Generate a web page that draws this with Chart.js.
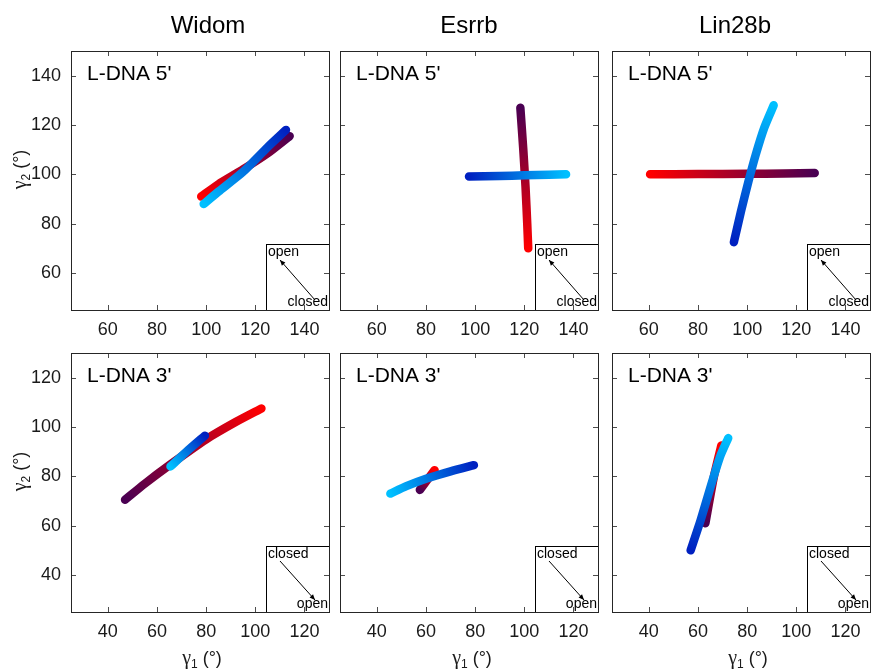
<!DOCTYPE html>
<html>
<head>
<meta charset="utf-8">
<script src="https://cdn.jsdelivr.net/npm/chart.js@4.4.0/dist/chart.umd.min.js"></script>
<style>
  html, body { margin: 0; padding: 0; background: #fff; overflow: hidden; }
  #wrap { position: relative; width: 871px; height: 671px; }
  #wrap canvas { position: absolute; }
</style>
</head>
<body>
<div id="wrap"></div>
<script>
// labels
const columns = ['Widom', 'Esrrb', 'Lin28b'];
const rowLabels = ["L-DNA 5'", "L-DNA 3'"];

// axis ranges + ticks (gamma1 on x, gamma2 on y)
const topRange = [45, 150];
const topTicks = [60, 80, 100, 120, 140];
const bottomRange = [25, 130];
const bottomTicks = [40, 60, 80, 100, 120];

// red series: red end first, dark purple end last  [gamma1, gamma2]
const widom5Red = [[98, 91], [105, 96], [115, 102], [125, 108.5], [134, 115.5]];
const esrrb5Red = [[121.6, 70], [121.2, 80], [120.5, 95], [119.6, 110], [118.4, 127]];
const lin5Red = [[60.5, 100], [80, 100.1], [100, 100.2], [115, 100.3], [127.5, 100.5]];
const widom3Red = [[102.5, 107.5], [92, 102], [80, 95], [65, 84.5], [55, 77], [47, 70.5]];
const esrrb3Red = [[63.5, 82.5], [60.5, 78.5], [57.5, 74.5]];
const lin3Red = [[69.5, 92.5], [66.5, 80], [63, 61]];

// blue series: dark blue end first, light blue end last
const widom5Blue = [[132.5, 118], [125, 111], [115, 101], [105, 93], [99, 88]];
const esrrb5Blue = [[97.5, 99.1], [110, 99.3], [120, 99.6], [130, 99.8], [137, 100]];
const lin5Blue = [[94.6, 72.5], [97.5, 85], [100.5, 97], [103.5, 108], [107, 119], [110.8, 128]];
const widom3Blue = [[79.5, 96.5], [72, 90], [65.5, 84]];
const esrrb3Blue = [[79.5, 84.5], [70, 82], [60, 79], [52, 76], [45.5, 73]];
const lin3Blue = [[57, 50], [61, 62], [65.5, 77], [69, 88], [72.3, 95.5]];

const redEnds = ['#ff0000', '#4a0052'];
const blueEnds = ['#0020c0', '#00c0ff'];

const FONT = '"Liberation Sans", Arial, sans-serif';

// plot boxes
const colLeft = [71, 340, 612];
const rowTop = [51, 353];
const plotW = 258, plotH = 259;
const padL = 70, padB = 59;
const titleShift = [8, 0, -6];
const xLabelShift = [2, 3, 7];

const panels = [
    {row: 0, col: 0, red: widom5Red, blue: widom5Blue},
    {row: 0, col: 1, red: esrrb5Red, blue: esrrb5Blue},
    {row: 0, col: 2, red: lin5Red, blue: lin5Blue},
    {row: 1, col: 0, red: widom3Red, blue: widom3Blue},
    {row: 1, col: 1, red: esrrb3Red, blue: esrrb3Blue},
    {row: 1, col: 2, red: lin3Red, blue: lin3Blue}
];

function toXY(list) {
    return list.map(p => ({x: p[0], y: p[1]}));
}

function lineGradient(ctx, ends) {
    const chart = ctx.chart;
    if (!chart.chartArea) return ends[0];
    const d = chart.data.datasets[ctx.datasetIndex].data;
    const xs = chart.scales.x, ys = chart.scales.y;
    const a = d[0], b = d[d.length - 1];
    const g = chart.ctx.createLinearGradient(
        xs.getPixelForValue(a.x), ys.getPixelForValue(a.y),
        xs.getPixelForValue(b.x), ys.getPixelForValue(b.y));
    g.addColorStop(0, ends[0]);
    g.addColorStop(1, ends[1]);
    return g;
}

function arrow(ctx, x1, y1, x2, y2) {
    ctx.beginPath();
    ctx.moveTo(x1, y1);
    ctx.lineTo(x2, y2);
    ctx.stroke();
    const ang = Math.atan2(y2 - y1, x2 - x1);
    ctx.beginPath();
    ctx.moveTo(x2, y2);
    ctx.lineTo(x2 - 6 * Math.cos(ang - 0.4), y2 - 6 * Math.sin(ang - 0.4));
    ctx.lineTo(x2 - 6 * Math.cos(ang + 0.4), y2 - 6 * Math.sin(ang + 0.4));
    ctx.closePath();
    ctx.fill();
}

// gamma label: serif gamma + subscript + " (°)"
function gammaLabel(ctx, sub, x, y, rotate) {
    ctx.save();
    ctx.translate(x, y);
    if (rotate) ctx.rotate(-Math.PI / 2);
    const pieces = [
        ['γ', '20px "Liberation Serif", serif', 0],
        [sub, '12px ' + FONT, 4],
        [' (°)', '18px ' + FONT, 0]
    ];
    let total = 0;
    pieces.forEach(p => { ctx.font = p[1]; total += ctx.measureText(p[0]).width; });
    let cx = -total / 2;
    ctx.textAlign = 'left';
    ctx.textBaseline = 'alphabetic';
    ctx.fillStyle = '#1a1a1a';
    pieces.forEach(p => {
        ctx.font = p[1];
        ctx.fillText(p[0], cx, p[2]);
        cx += ctx.measureText(p[0]).width;
    });
    ctx.restore();
}

function makeDecor(panel, ticks) {
    return {
        id: 'decor' + panel.row + panel.col,
        afterDatasetsDraw(chart) {
            const ctx = chart.ctx;
            const a = chart.chartArea;
            const L = Math.round(a.left), R = Math.round(a.right);
            const T = Math.round(a.top), B = Math.round(a.bottom);
            ctx.save();

            // inset with open/closed arrow
            const x0 = R - 63, y0 = B - 66;
            ctx.fillStyle = '#fff';
            ctx.fillRect(x0, y0, R - x0, B - y0);
            ctx.strokeStyle = '#000';
            ctx.lineWidth = 1;
            ctx.strokeRect(x0 + 0.5, y0 + 0.5, R - x0, B - y0);
            ctx.fillStyle = '#000';
            ctx.font = '14px ' + FONT;
            ctx.textBaseline = 'alphabetic';
            const first = panel.row === 0 ? 'open' : 'closed';
            const second = panel.row === 0 ? 'closed' : 'open';
            ctx.textAlign = 'left';
            ctx.fillText(first, x0 + 2, y0 + 12);
            ctx.textAlign = 'right';
            ctx.fillText(second, R - 1, B - 4);
            if (panel.row === 0) {
                arrow(ctx, x0 + 49, y0 + 56, x0 + 14, y0 + 16);
            } else {
                arrow(ctx, x0 + 14, y0 + 15, x0 + 49, y0 + 54);
            }

            // inward ticks on all four sides
            ctx.strokeStyle = '#4d4d4d';
            ticks.forEach(v => {
                const px = Math.round(chart.scales.x.getPixelForValue(v)) + 0.5;
                const py = Math.round(chart.scales.y.getPixelForValue(v)) + 0.5;
                ctx.beginPath();
                ctx.moveTo(px, B); ctx.lineTo(px, B - 5);
                ctx.moveTo(px, T); ctx.lineTo(px, T + 5);
                ctx.moveTo(L, py); ctx.lineTo(L + 5, py);
                ctx.moveTo(R, py); ctx.lineTo(R - 5, py);
                ctx.stroke();
            });

            // frame
            ctx.strokeStyle = '#262626';
            ctx.strokeRect(L + 0.5, T + 0.5, R - L, B - T);

            // texts
            ctx.fillStyle = '#000';
            ctx.textAlign = 'left';
            ctx.font = '21px ' + FONT;
            ctx.fillText(rowLabels[panel.row], L + 16, T + 29);
            if (panel.row === 0) {
                ctx.textAlign = 'center';
                ctx.font = '24px ' + FONT;
                ctx.fillText(columns[panel.col], (L + R) / 2 + titleShift[panel.col], T - 18);
            }
            if (panel.row === 1) {
                gammaLabel(ctx, '1', (L + R) / 2 + xLabelShift[panel.col], B + 52, false);
            }
            if (panel.col === 0) {
                gammaLabel(ctx, '2', 25, (T + B) / 2 - 11, true);
            }
            ctx.restore();
        }
    };
}

const wrap = document.getElementById('wrap');

panels.forEach(panel => {
    const range = panel.row === 0 ? topRange : bottomRange;
    const ticks = panel.row === 0 ? topTicks : bottomTicks;
    const canvas = document.createElement('canvas');
    canvas.width = padL + plotW + 1;
    canvas.height = 51 + plotH + padB;
    canvas.style.left = (colLeft[panel.col] - padL) + 'px';
    canvas.style.top = (rowTop[panel.row] - 51) + 'px';
    wrap.appendChild(canvas);

    const tickOpts = {
        font: {family: FONT, size: 18},
        color: '#1a1a1a',
        maxRotation: 0,
        autoSkip: false
    };

    new Chart(canvas, {
        type: 'scatter',
        data: {
            datasets: [
                {
                    data: toXY(panel.blue),
                    showLine: true,
                    borderColor: ctx => lineGradient(ctx, blueEnds),
                    borderWidth: 8.5,
                    borderCapStyle: 'round',
                    borderJoinStyle: 'round',
                    tension: 0.2,
                    pointRadius: 0
                },
                {
                    data: toXY(panel.red),
                    showLine: true,
                    borderColor: ctx => lineGradient(ctx, redEnds),
                    borderWidth: 8.5,
                    borderCapStyle: 'round',
                    borderJoinStyle: 'round',
                    tension: 0.2,
                    pointRadius: 0
                }
            ]
        },
        options: {
            responsive: false,
            animation: false,
            events: [],
            layout: {padding: {top: 51, right: 1, left: 0, bottom: 0}},
            plugins: {
                legend: {display: false},
                tooltip: {enabled: false}
            },
            scales: {
                x: {
                    type: 'linear',
                    min: range[0],
                    max: range[1],
                    afterBuildTicks: s => { s.ticks = ticks.map(v => ({value: v})); },
                    afterFit: s => { s.height = padB; },
                    grid: {display: false, drawTicks: false},
                    border: {display: false},
                    ticks: Object.assign({padding: 9}, tickOpts)
                },
                y: {
                    type: 'linear',
                    min: range[0],
                    max: range[1],
                    afterBuildTicks: s => { s.ticks = ticks.map(v => ({value: v})); },
                    afterFit: s => { s.width = padL; },
                    grid: {display: false, drawTicks: false},
                    border: {display: false},
                    ticks: Object.assign({padding: 10, display: panel.col === 0}, tickOpts)
                }
            }
        },
        plugins: [makeDecor(panel, ticks)]
    });
});
</script>
</body>
</html>
